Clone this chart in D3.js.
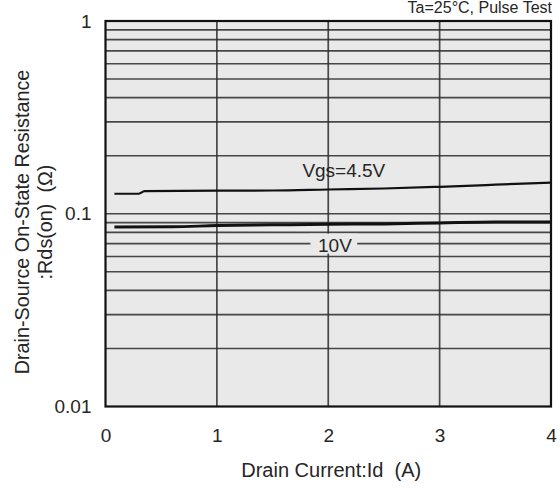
<!DOCTYPE html>
<html>
<head>
<meta charset="utf-8">
<script src="https://cdn.jsdelivr.net/npm/d3@7/dist/d3.min.js"></script>
<style>
  html, body { margin: 0; padding: 0; background: #ffffff; }
  svg { display: block; font-family: "Liberation Sans", Arial, sans-serif; }
  svg text { white-space: pre; }
</style>
</head>
<body>
<svg id="chart" width="560" height="491"></svg>
<script>
// Drain current (A) sample points
const idVgs45 = [0.08, 0.30, 0.35, 1.0, 1.5, 2.0, 2.5, 3.0, 3.5, 4.0];
const rdsVgs45 = [0.127, 0.127, 0.131, 0.1317, 0.132, 0.1336, 0.1352, 0.138, 0.1415, 0.1452];
const idVgs10 = [0.08, 0.6, 1.0, 1.5, 2.0, 2.5, 3.0, 3.5, 4.0];
const rdsVgs10 = [0.0854, 0.0856, 0.0868, 0.0876, 0.0882, 0.0886, 0.0896, 0.0906, 0.0907];
const xTicks = [0, 1, 2, 3, 4];
const yTicks = [0.01, 0.1, 1];
const yTickLabels = ["0.01", "0.1", "1"];
const seriesLabels = ["Vgs=4.5V", "10V"];

const svg = d3.select("#chart");
const margin = { left: 105.5, right: 9, top: 21, bottom: 84.5 };
const W = 560, H = 491;
const FONT = "Liberation Sans, Arial, sans-serif";
const TXT = "#262626";
const x = d3.scaleLinear().domain([0, 4]).range([margin.left, W - margin.right]);
const y = d3.scaleLog().domain([0.01, 1]).range([H - margin.bottom, margin.top]);

// plot background
svg.append("rect")
  .attr("x", x(0)).attr("y", y(1))
  .attr("width", x(4) - x(0)).attr("height", y(0.01) - y(1))
  .attr("fill", "#e9e9e9");

// horizontal log grid (every minor step of each decade)
const gridVals = [];
for (const d of [0.01, 0.1]) for (let k = 2; k <= 9; k++) gridVals.push(+(d * k).toFixed(3));
gridVals.push(0.1);
svg.append("g").selectAll("line").data(gridVals).join("line")
  .attr("x1", x(0)).attr("x2", x(4))
  .attr("y1", d => y(d)).attr("y2", d => y(d))
  .attr("stroke", "#2a2a2a").attr("stroke-width", 1.7).attr("stroke-opacity", 0.85);

// vertical grid
svg.append("g").selectAll("line").data([1, 2, 3]).join("line")
  .attr("x1", d => x(d)).attr("x2", d => x(d))
  .attr("y1", y(1)).attr("y2", y(0.01))
  .attr("stroke", "#2a2a2a").attr("stroke-width", 1.7).attr("stroke-opacity", 0.85);

// curves
const line = d3.line().x(d => x(d[0])).y(d => y(d[1])).curve(d3.curveMonotoneX);
svg.append("path")
  .datum(idVgs45.map((v, i) => [v, rdsVgs45[i]]))
  .attr("d", line).attr("fill", "none")
  .attr("stroke", "#111").attr("stroke-width", 2.2);
svg.append("path")
  .datum(idVgs10.map((v, i) => [v, rdsVgs10[i]]))
  .attr("d", line).attr("fill", "none")
  .attr("stroke", "#111").attr("stroke-width", 3);

// series labels
svg.append("text")
  .attr("x", x(2.14)).attr("y", y(0.1) - 37)
  .attr("text-anchor", "middle").attr("font-size", 19).attr("fill", TXT)
  .text(seriesLabels[0]);
const lab10 = svg.append("g");
lab10.append("rect")
  .attr("x", x(1.84)).attr("y", y(0.07) - 10)
  .attr("width", x(2.26) - x(1.84)).attr("height", 20)
  .attr("fill", "#e9e9e9");
lab10.append("text")
  .attr("x", x(2.06)).attr("y", y(0.07) + 8)
  .attr("text-anchor", "middle").attr("font-size", 19).attr("fill", TXT)
  .text(seriesLabels[1]);

// frame
svg.append("rect")
  .attr("x", x(0)).attr("y", y(1))
  .attr("width", x(4) - x(0)).attr("height", y(0.01) - y(1))
  .attr("fill", "none").attr("stroke", "#111").attr("stroke-width", 2.2);

// axes (labels only)
const xAxis = d3.axisBottom(x).tickValues(xTicks).tickSize(0).tickPadding(0).tickFormat(d3.format("d"));
const gx = svg.append("g").attr("transform", `translate(0,${y(0.01) + 22})`).call(xAxis);
gx.select(".domain").remove();
gx.selectAll("text").attr("font-size", 19).attr("fill", TXT).attr("font-family", FONT);

const yAxis = d3.axisLeft(y).tickValues(yTicks).tickSize(0).tickPadding(14)
  .tickFormat((d, i) => yTickLabels[i]);
const gy = svg.append("g").attr("transform", `translate(${x(0)},0)`).call(yAxis);
gy.select(".domain").remove();
gy.selectAll("text").attr("font-size", 19).attr("fill", TXT).attr("font-family", FONT);

// axis titles
svg.append("text")
  .attr("x", x(2) + 3).attr("y", 477)
  .attr("text-anchor", "middle").attr("font-size", 20).attr("fill", TXT)
  .text("Drain Current:Id  (A)");
svg.append("text")
  .attr("transform", `translate(29,222) rotate(-90)`)
  .attr("text-anchor", "middle").attr("font-size", 19.8).attr("fill", TXT)
  .text("Drain-Source On-State Resistance");
svg.append("text")
  .attr("transform", `translate(52,222) rotate(-90)`)
  .attr("text-anchor", "middle").attr("font-size", 19.8).attr("fill", TXT)
  .text(":Rds(on)  (Ω)");

// test condition
svg.append("text")
  .attr("x", W - 8).attr("y", 13)
  .attr("text-anchor", "end").attr("font-size", 16).attr("fill", TXT)
  .text("Ta=25°C, Pulse Test");
</script>
</body>
</html>
